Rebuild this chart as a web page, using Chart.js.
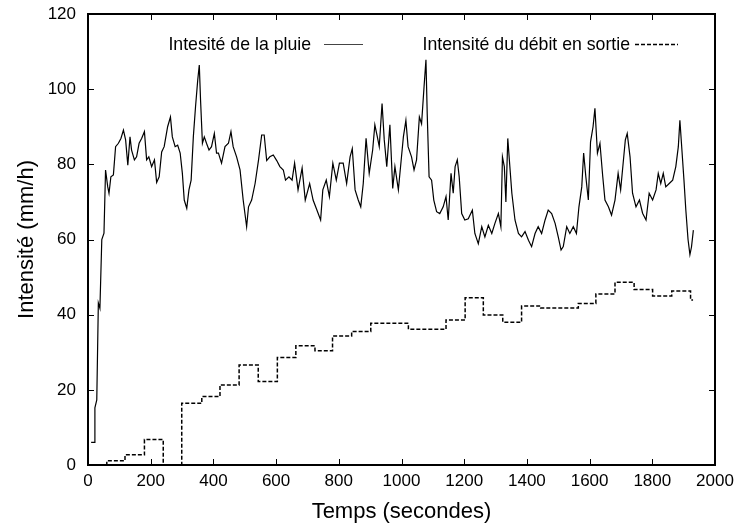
<!DOCTYPE html>
<html>
<head>
<meta charset="utf-8">
<script src="https://cdn.jsdelivr.net/npm/chart.js@4.4.1/dist/chart.umd.min.js"></script>
<style>
  html, body { margin: 0; padding: 0; background: #fff; }
  #wrap { width: 734px; height: 525px; }
</style>
</head>
<body>
<div id="wrap"><canvas id="chart"></canvas></div>
<script>
// pluie : temps (s) et intensité (mm/h)
const rainTimes = [10,20,22,28,33,38,44,51,56,63,67,73,81,88,97,105,113,120,127,134,139,148,155,163,171,180,187,194,203,212,219,227,235,243,254,263,269,278,286,294,301,307,315,322,329,336,343,350,355,359,365,371,378,386,394,403,410,
  416,426,437,448,456,463,474,485,495,506,512,522,533,544,554,562,570,580,591,602,612,623,630,641,651,659,670,683,693,707,718,728,742,749,760,770,781,792,802,
  814,825,836,843,852,862,870,878,887,897,908,915,923,929,938,945,953,963,972,979,990,1000,1006,1014,1021,1032,1040,1048,1057,1064,1072,1078,1082,1088,1096,1103,1112,1122,1133,1142,1149,1158,1165,1171,1178,1184,1192,1202,
  1213,1226,1234,1245,1256,1266,1277,1288,1298,1309,1317,1322,1328,1333,1339,1344,1352,1362,1373,1383,1394,1405,1415,1426,1436,1447,1458,1468,1479,1490,1500,1509,1516,1527,1537,1548,1558,1566,1575,1581,1588,1596,
  1603,1611,1617,1625,1633,1642,1649,1660,1670,1681,1691,1699,1707,1714,1720,1729,1737,1748,1759,1769,1780,1790,1801,1812,1819,1827,1835,1843,1854,1865,1875,1883,1888,1893,1901,1907,1914,1920,1925,1931];
const rainValues = [6,6,15.2,17.3,43.1,41.7,60,61.7,78.5,74,72.3,76.7,77.2,84.7,85.6,86.9,89.1,86.5,79.8,87.3,83.8,81.2,82,85.6,86.9,88.7,81.2,82,79.4,81.2,75.2,76.7,83.3,84.7,90,92.6,87.3,84.7,85.1,83,77.6,70.5,68.3,73.2,75.8,87.3,95.3,102.4,106.4,97.1,85.6,87.3,85.6,83.8,84.7,88.2,83,
  83,80.3,84.7,85.6,88.7,84.7,82,78.5,70.5,63.4,68.7,70.5,74.9,81.2,87.8,87.8,81,82,82.5,81,79.4,78.5,75.8,76.7,75.8,80.3,73.2,79,70.5,74.9,70.5,68.3,65.2,73.2,75.8,71.4,80.3,75.8,80.3,
  80.3,74.9,82,84.2,73.2,70.5,68.7,74.9,86.9,77.6,83.8,90.5,87.3,84.7,96.2,86.5,79.4,90.5,73.6,79.4,73.2,82,87.3,91.7,84.7,82,78.5,81.2,92.6,90.8,100.7,107.8,93.5,76.7,75.8,70.5,67.4,66.9,68.7,71.4,65.2,77.6,72.3,79.4,81.2,76.7,66.9,65.2,
  65.5,67.8,61.6,58.9,63.4,60.7,63.8,61.6,64.3,66.9,63.4,82,79.4,70,86.9,81.2,72.3,65.2,61.6,60.7,62.1,59.8,58.1,61.6,63.4,61.6,65.2,67.8,66.9,64.3,60.7,57.2,58.1,63.4,61.6,63.4,61.6,68.7,74,83,76.7,70.5,
  86,90,94.9,83,85.6,76.7,70.5,68.7,66.5,70.5,77.6,73.2,80.3,86.5,88.2,82,72.3,68.7,70.5,67,65.2,72.3,70.5,73.2,77.6,74.9,77.6,74,74.9,75.8,79.4,84.7,91.7,85.6,75.8,67.8,60,56,58,62.5];

// débit en sortie : paliers (début du palier, valeur)
const flowTimes = [0,60,118,180,240,299,363,421,482,543,604,663,724,780,841,902,1022,1142,1203,1261,1323,1383,1444,1564,1620,1681,1742,1801,1862,1922,1930];
const flowValues = [0,1.1,2.7,6.8,0,16.4,18.2,21.3,26.6,22.2,28.6,31.7,30.4,34.3,35.5,37.7,36.1,38.6,44.5,39.9,38,42.3,41.8,43,45.5,48.6,46.7,45,46.3,43.9,43.9];

const xTicks = [0,200,400,600,800,1000,1200,1400,1600,1800,2000];
const yTicks = [0,20,40,60,80,100,120];

const rainLabel = 'Intesité de la pluie';
const flowLabel = 'Intensité du débit en sortie';

Chart.defaults.font.family = '"Liberation Sans", Arial, Helvetica, sans-serif';
Chart.defaults.color = '#000';

// cadre, graduations vers l'intérieur et légende façon gnuplot
const boxTicks = {
    id: 'boxTicks',
    afterDatasetsDraw(chart) {
        const {ctx, chartArea: a, scales: {x, y}} = chart;
        ctx.save();
        ctx.strokeStyle = '#000';
        ctx.lineWidth = 1;
        ctx.beginPath();
        xTicks.forEach(v => {
            const px = Math.round(x.getPixelForValue(v)) + 0.5;
            ctx.moveTo(px, a.bottom); ctx.lineTo(px, a.bottom - 6);
            ctx.moveTo(px, a.top); ctx.lineTo(px, a.top + 6);
        });
        yTicks.forEach(v => {
            const py = Math.round(y.getPixelForValue(v)) + 0.5;
            ctx.moveTo(a.left, py); ctx.lineTo(a.left + 6, py);
            ctx.moveTo(a.right, py); ctx.lineTo(a.right - 6, py);
        });
        ctx.stroke();
        ctx.lineWidth = 2;
        ctx.strokeRect(a.left, a.top, a.right - a.left, a.bottom - a.top);

        // légende
        ctx.font = '17.7px "Liberation Sans", Arial, sans-serif';
        ctx.fillStyle = '#000';
        ctx.textAlign = 'right';
        ctx.textBaseline = 'middle';
        ctx.fillText(rainLabel, 311, 45);
        ctx.fillText(flowLabel, 630, 45);
        ctx.lineWidth = 1;
        ctx.strokeStyle = '#444';
        ctx.beginPath(); ctx.moveTo(324, 44.5); ctx.lineTo(363, 44.5); ctx.stroke();
        ctx.strokeStyle = '#000';
        ctx.lineWidth = 1.5;
        ctx.setLineDash([4, 2]);
        ctx.beginPath(); ctx.moveTo(635, 44.5); ctx.lineTo(678, 44.5); ctx.stroke();
        ctx.restore();
    }
};

document.addEventListener('DOMContentLoaded', function() {
    const ctx = document.getElementById('chart').getContext('2d');

    const rainData = rainTimes.map((t, i) => ({x: t, y: rainValues[i]}));
    const flowData = flowTimes.map((t, i) => ({x: t, y: flowValues[i]}));

    new Chart(ctx, {
        type: 'line',
        data: {
            datasets: [{
                label: rainLabel,
                data: rainData,
                borderColor: '#000',
                borderWidth: 1.2,
                pointRadius: 0,
                tension: 0
            }, {
                label: flowLabel,
                data: flowData,
                borderColor: '#000',
                borderWidth: 1.5,
                borderDash: [4, 2],
                pointRadius: 0,
                stepped: true
            }]
        },
        options: {
            responsive: true,
            maintainAspectRatio: false,
            animation: false,
            layout: { padding: { top: 14, right: 19, left: 0, bottom: 0 } },
            plugins: { legend: { display: false }, tooltip: { enabled: false } },
            scales: {
                x: {
                    type: 'linear',
                    min: 0, max: 2000,
                    afterBuildTicks: s => { s.ticks = xTicks.map(v => ({value: v})); },
                    afterFit: s => { s.height = 60; s.paddingLeft = 0; s.paddingRight = 0; },
                    grid: { display: false, drawTicks: false },
                    border: { display: false },
                    ticks: { font: { size: 17 }, padding: 6, maxRotation: 0, callback: v => String(v) },
                    title: { display: true, text: 'Temps (secondes)', font: { size: 22 }, padding: { top: 3, bottom: 0 } }
                },
                y: {
                    min: 0, max: 120,
                    afterBuildTicks: s => { s.ticks = yTicks.map(v => ({value: v})); },
                    afterFit: s => { s.width = 88; s.paddingTop = 0; s.paddingBottom = 0; },
                    grid: { display: false, drawTicks: false },
                    border: { display: false },
                    ticks: { font: { size: 17 }, padding: 12, callback: v => String(v) },
                    title: { display: true, text: 'Intensité (mm/h)', font: { size: 22 }, padding: { top: 14, bottom: 0 } }
                }
            }
        },
        plugins: [boxTicks]
    });
});
</script>
</body>
</html>
